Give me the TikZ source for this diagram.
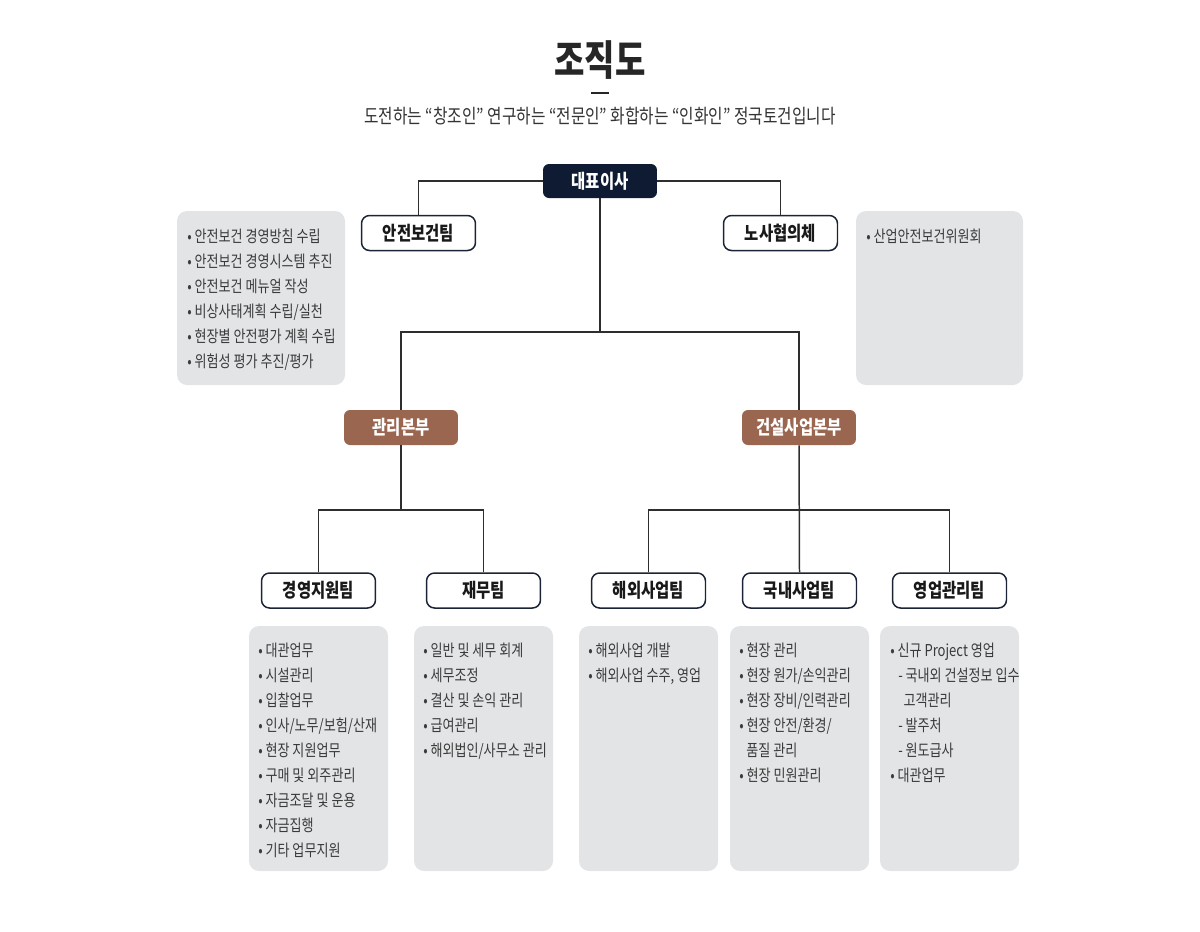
\documentclass[tikz,border=0pt]{standalone}
\usepackage{fontspec}
\setmainfont{Noto Sans CJK KR}[FakeStretch=0.8]
\usetikzlibrary{positioning,calc}
\definecolor{ceonavy}{HTML}{0E1B33}
\definecolor{hqbrown}{HTML}{9A6650}
\definecolor{panelgray}{HTML}{E3E4E6}
\definecolor{wiregray}{HTML}{2E2E2E}
\definecolor{itemgray}{HTML}{3A3A3A}
\definecolor{teamedge}{HTML}{1B2436}
\tikzset{
  ceo/.style={rectangle,rounded corners=0.12cm,fill=ceonavy,text=white,
    font=\bfseries\fontsize{11}{13}\selectfont,minimum width=2.28cm,minimum height=0.68cm,inner sep=0pt},
  hq/.style={rectangle,rounded corners=0.12cm,fill=hqbrown,text=white,
    font=\bfseries\fontsize{11}{13}\selectfont,minimum width=2.28cm,minimum height=0.7cm,inner sep=0pt},
  team/.style={rectangle,rounded corners=0.16cm,draw=teamedge,line width=0.85pt,fill=white,
    text=black!90,font=\bfseries\fontsize{11}{13}\selectfont,minimum width=2.28cm,minimum height=0.7cm,inner sep=0pt},
  panel/.style={fill=panelgray,rounded corners=0.2cm},
  item/.style={anchor=base west,inner sep=0pt,text=itemgray,font=\fontsize{9.3}{11}\selectfont},
  wire/.style={line width=0.85pt,wiregray},
}
\begin{document}
\begin{tikzpicture}[x=0.02cm,y=-0.02cm]
  \useasboundingbox (0,0) rectangle (1200,931);
  % heading
  \node[font=\bfseries\fontsize{23.5}{27}\selectfont,text=black!85] (title) at (600,60) {조직도};
  \draw[line width=0.85pt,black!85] (591,93) -- (609,93);
  \node[font=\fontsize{11.2}{13}\selectfont,text=black!80] (slogan) at (600,116)
    {도전하는 “창조인” 연구하는 “전문인” 화합하는 “인화인” 정국토건입니다};
  % grey panels
  \fill[panel] (177,211) rectangle (345,385);
  \fill[panel] (856,211) rectangle (1023,385);
  \foreach \cx in {318.5,483.5,648.5,799.5,949.5}
    \fill[panel] (\cx-69.5,626) rectangle (\cx+69.5,871);
  % boxes
  \node[ceo] (ceo) at (600,181) {대표이사};
  \node[team] (safety) at (418.5,233) {안전보건팀};
  \node[team] (labor) at (780.5,233) {노사협의체};
  \node[hq] (mgmt) at (401,427.5) {관리본부};
  \node[hq] (cons) at (799,427.5) {건설사업본부};
  \foreach \nm/\cx/\lbl in {gs/318.5/경영지원팀,fin/483.5/재무팀,ovs/648.5/해외사업팀,dom/799.5/국내사업팀,sales/949.5/영업관리팀}
    \node[team] (\nm) at (\cx,590.5) {\lbl};
  % connectors
  \coordinate (bus1) at (ceo.south |- 0,332);
  \coordinate (bus2) at (mgmt.south |- 0,510);
  \coordinate (bus3) at (cons.south |- 0,510);
  \draw[wire] (ceo.west) -| (safety.north);
  \draw[wire] (ceo.east) -| (labor.north);
  \draw[wire] (ceo.south) -- (bus1);
  \draw[wire] (mgmt.north) |- (bus1) -| (cons.north);
  \draw[wire] (mgmt.south) -- (bus2);
  \draw[wire] (gs.north) |- (bus2) -| (fin.north);
  \draw[wire] (cons.south) -- (dom.north);
  \draw[wire] (ovs.north) |- (bus3) -| (sales.north);
  % panel texts
  \foreach \t [count=\i] in {안전보건 경영방침 수립,안전보건 경영시스템 추진,안전보건 메뉴얼 작성,
      비상사태계획 수립/실천,현장별 안전평가 계획 수립,위험성 평가 추진/평가}
    \node[item] (sf\i) at (187,{236+25*(\i-1)+6}) {•\,\t};
  \node[item] (lb1) at (866,242) {•\,산업안전보건위원회};
  \foreach \t [count=\i] in {대관업무,시설관리,입찰업무,인사/노무/보험/산재,현장 지원업무,
      구매 및 외주관리,자금조달 및 운용,자금집행,기타 업무지원}
    \node[item] (gs\i) at (258,{650+25*(\i-1)+6}) {•\,\t};
  \foreach \t [count=\i] in {일반 및 세무 회계,세무조정,결산 및 손익 관리,급여관리,해외법인/사무소 관리}
    \node[item] (fn\i) at (423,{650+25*(\i-1)+6}) {•\,\t};
  \foreach \t [count=\i] in {해외사업 개발,{해외사업 수주, 영업}}
    \node[item] (ov\i) at (588,{650+25*(\i-1)+6}) {•\,\t};
  \foreach \t [count=\i] in {•\,현장 관리,•\,현장 원가/손익관리,•\,현장 장비/인력관리,
      •\,현장 안전/환경/,\hspace{4pt}품질 관리,•\,현장 민원관리}
    \node[item] (dm\i) at (739,{650+25*(\i-1)+6}) {\t};
  \foreach \t [count=\i] in {•\,신규 Project 영업,\hspace{4.5pt}-\,국내외 건설정보 입수,
      \hspace{7.5pt}고객관리,\hspace{4.5pt}-\,발주처,\hspace{4.5pt}-\,원도급사,•\,대관업무}
    \node[item] (sl\i) at (890,{650+25*(\i-1)+6}) {\t};
\end{tikzpicture}
\end{document}
